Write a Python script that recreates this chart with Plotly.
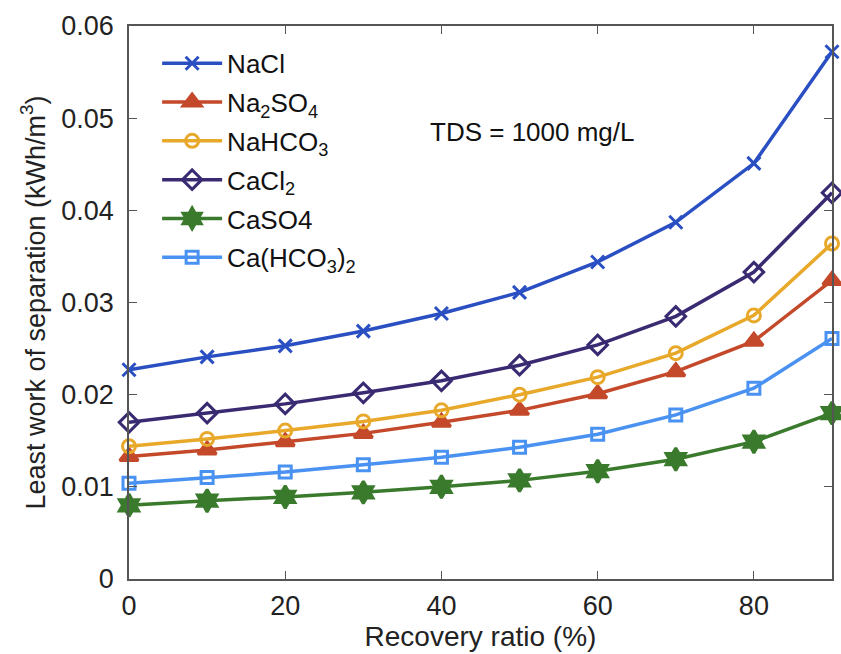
import plotly.graph_objects as go

recovery = [0, 10, 20, 30, 40, 50, 60, 70, 80, 90]
nacl = [0.0227, 0.0241, 0.0253, 0.0269, 0.0288, 0.0311, 0.0344, 0.0387, 0.0451, 0.0572]
na2so4 = [0.0133, 0.0140, 0.0149, 0.0158, 0.0170, 0.0183, 0.0201, 0.0225, 0.0258, 0.0324]
nahco3 = [0.0144, 0.0152, 0.0161, 0.0171, 0.0183, 0.0200, 0.0219, 0.0245, 0.0286, 0.0364]
cacl2 = [0.0170, 0.0180, 0.0190, 0.0202, 0.0215, 0.0232, 0.0254, 0.0285, 0.0333, 0.0419]
caso4 = [0.0080, 0.0085, 0.0089, 0.0094, 0.0100, 0.0107, 0.0117, 0.0130, 0.0149, 0.0180]
cahco3 = [0.0104, 0.0110, 0.0116, 0.0124, 0.0132, 0.0143, 0.0157, 0.0178, 0.0207, 0.0261]

names = ["NaCl", "Na<sub>2</sub>SO<sub>4</sub>", "NaHCO<sub>3</sub>", "CaCl<sub>2</sub>", "CaSO4",
         "Ca(HCO<sub>3</sub>)<sub>2</sub>"]
series = [nacl, na2so4, nahco3, cacl2, caso4, cahco3]
colors = ["#2a4fc2", "#c4492a", "#e8a82a", "#3a2a72", "#3a7a2c", "#4a92f2"]
symbols = ["x-thin", "triangle-up", "circle-open", "diamond-open", "hexagram", "square-open"]
sizes = [13, 16, 13, 15, 17, 12]

FONT = "Liberation Sans, Arial, Helvetica"

fig = go.Figure()
for i, (n, s, c, sym, sz) in enumerate(zip(names, series, colors, symbols, sizes)):
    fig.add_trace(go.Scatter(
        x=recovery, y=s, name=n, mode="lines+markers", legendgroup=f"g{i}",
        line=dict(color=c, width=3.5),
        marker=dict(symbol=sym, size=sz, color=c, line=dict(color=c, width=3)),
        cliponaxis=False,
    ))

axis_common = dict(
    showline=True, linecolor="#555555", linewidth=1.5, mirror="ticks",
    ticks="inside", ticklen=8, tickcolor="#555555", showgrid=False, zeroline=False,
    tickfont=dict(family=FONT, size=27, color="#222222"),
)
fig.update_xaxes(range=[0, 90], tickvals=[0, 20, 40, 60, 80], ticklabelstandoff=2,
                 title=dict(text="Recovery ratio (%)", standoff=4,
                            font=dict(family=FONT, size=28, color="#222222")),
                 **axis_common)
fig.update_yaxes(range=[0, 0.06], tickvals=[0, 0.01, 0.02, 0.03, 0.04, 0.05, 0.06],
                 ticktext=["0", "0.01", "0.02", "0.03", "0.04", "0.05", "0.06"],
                 ticklabelstandoff=8,
                 title=dict(text="Least work of separation (kWh/m<sup>3</sup>)", standoff=8,
                            font=dict(family=FONT, size=27, color="#222222")),
                 **axis_common)

fig.add_annotation(x=0.426, y=0.808, xref="paper", yref="paper", xanchor="left", yanchor="middle",
                   text="TDS = 1000 mg/L", showarrow=False,
                   font=dict(family=FONT, size=26, color="#111111"))

fig.update_layout(
    width=841, height=654,
    margin=dict(l=129, r=7, t=26, b=75),
    paper_bgcolor="white", plot_bgcolor="white",
    showlegend=True,
    legend=dict(x=0.04, y=0.975, xanchor="left", yanchor="top", tracegroupgap=2,
                bgcolor="rgba(0,0,0,0)", itemwidth=60,
                font=dict(family=FONT, size=26, color="#111111")),
)

fig.write_html("out.html")
